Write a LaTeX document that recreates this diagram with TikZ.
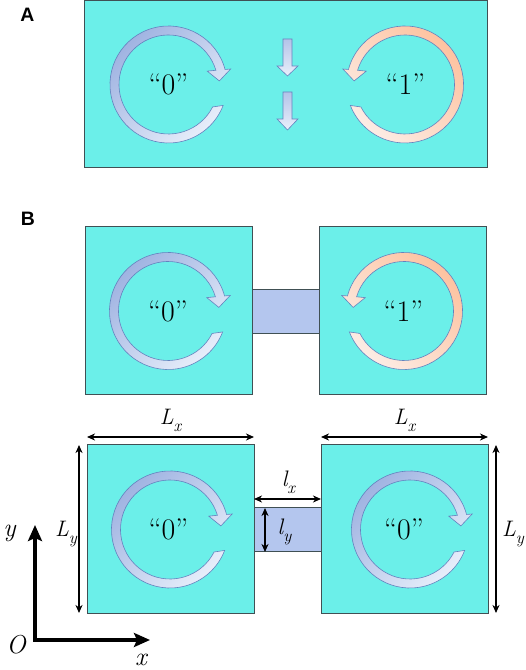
\documentclass[tikz,border=0pt]{standalone}
\usepackage{fontspec}
\newfontfamily\panelfont{Liberation Sans}
\newcommand{\tms}{\rmfamily}
\usetikzlibrary{arrows.meta}
\definecolor{cyanfill}{RGB}{107,239,233}
\definecolor{boxline}{RGB}{64,80,84}
\definecolor{bridgefill}{RGB}{180,198,238}
\definecolor{blued}{RGB}{156,176,224}
\definecolor{bluel}{RGB}{234,240,251}
\definecolor{ringline}{RGB}{100,130,190}
\definecolor{oranged}{RGB}{253,192,156}
\definecolor{orangel}{RGB}{252,238,232}
\newcommand{\sublab}[2]{{\tms\itshape #1}\raisebox{-7bp}{\fontsize{17}{17}\selectfont\tms\itshape #2}}
\tikzset{
  swirl/.pic={\path[pic actions] (14.9:58.5) arc[start angle=14.9,end angle=339,radius=58.5]
      -- (333:49.5) arc[start angle=333,end angle=16.7,radius=49.5]
      -- (19:41) -- (4:51) -- (14:64) -- cycle;},
  zeroring/.style={draw=ringline, line width=0.6bp, top color=blued, bottom color=bluel, shading angle=45},
  onering/.style={draw=ringline, line width=0.6bp, top color=oranged, bottom color=orangel, shading angle=-45},
  cell/.style={draw=boxline, fill=cyanfill, line width=1bp, inner sep=0pt, outer sep=0pt},
  bridge/.style={draw=boxline, fill=bridgefill, line width=1bp, inner sep=0pt, outer sep=0pt,
     minimum width=67bp, minimum height=44bp},
  bit/.style={font=\tms\fontsize{30}{32}\selectfont, inner sep=0pt},
  dimlab/.style={font=\tms\fontsize{22.5}{24}\selectfont, inner sep=0pt, anchor=base},
  axlab/.style={font=\tms\fontsize{26}{28}\selectfont\itshape, inner sep=0pt, anchor=base},
  dim/.style={line width=1.3bp, {Stealth[length=8bp,width=7bp,inset=2.5bp]}-{Stealth[length=8bp,width=7bp,inset=2.5bp]}},
  axis/.style={line width=4bp, line join=miter, {Stealth[length=16bp,width=14bp,inset=3bp]}-{Stealth[length=16bp,width=14bp,inset=3bp]}},
  smallarrow/.style={draw=ringline, line width=0.6bp, top color=blued!70!bluel, bottom color=bluel},
  panel/.style={font=\panelfont\bfseries\fontsize{19.5}{20}\selectfont, inner sep=0pt, anchor=base}
}
\begin{document}
\begin{tikzpicture}[x=1bp,y=1bp]
\useasboundingbox (0,0) rectangle (526,670);
% ---------- Panel A ----------
\node[panel] (labA) at (27.5,648) {A};
\node[cell, minimum width=402bp, minimum height=167bp] (boxA) at (286,585.5) {};
\pic[zeroring] at (168.5,585.5) {swirl};
\pic[onering, xscale=-1] at (405,585.5) {swirl};
\node[bit] (a0) at (168.5,585.5) {“0”};
\node[bit] (a1) at (405.5,585.5) {“1”};
\path[smallarrow] (283,631) -- (292,631) -- (292,604) -- (298,604) -- (287.5,594) -- (277,604) -- (283,604) -- cycle;
\path[smallarrow] (283,578) -- (292,578) -- (292,551) -- (298,551) -- (287.5,540) -- (277,551) -- (283,551) -- cycle;
% ---------- Panel B top ----------
\node[panel] (labB) at (28,444) {B};
\node[bridge] (bt) at (285.5,358) {};
\node[cell, minimum width=167bp, minimum height=168bp] (tl) at (168.5,359) {};
\node[cell, minimum width=167bp, minimum height=168bp] (tr) at (402.5,359) {};
\pic[zeroring] at (168,359) {swirl};
\pic[onering, xscale=-1] at (404,359) {swirl};
\node[bit] (b0) at (168,359) {“0”};
\node[bit] (b1) at (403.5,359) {“1”};
% ---------- Panel B bottom ----------
\node[bridge] (bb) at (287.5,140) {};
\node[cell, minimum width=167bp, minimum height=168bp] (ll) at (170.5,141) {};
\node[cell, minimum width=167bp, minimum height=168bp] (lr) at (404.5,141) {};
\pic[zeroring] at (170,140.5) {swirl};
\pic[zeroring] at (410,140.5) {swirl};
\node[bit] (c0) at (168.5,140.5) {“0”};
\node[bit] (c1) at (404,140.5) {“0”};
% dimensions
\draw[dim] ([yshift=8bp]ll.north west) -- ([yshift=8bp]ll.north east);
\draw[dim] ([yshift=8bp]lr.north west) -- ([yshift=8bp]lr.north east);
\draw[dim] ([xshift=-8bp]ll.north west) -- ([xshift=-8bp]ll.south west);
\draw[dim] ([xshift=8bp]lr.north east) -- ([xshift=8bp]lr.south east);
\draw[dim] ([yshift=9bp]bb.north west) -- ([yshift=9bp]bb.north east);
\draw[dim] ([xshift=11bp]bb.north west) -- ([xshift=11bp]bb.south west);
\node[dimlab] (lx1) at (170.5,245) {\sublab{L}{x}};
\node[dimlab] (lx2) at (404.5,245) {\sublab{L}{x}};
\node[dimlab] (ly1) at (66,133) {\sublab{L}{y}};
\node[dimlab] (ly2) at (513,133) {\sublab{L}{y}};
\node[dimlab] (sx) at (288.5,183) {\sublab{l}{x}};
\node[dimlab] (sy) at (284.5,135) {\sublab{l}{y}};
% axes
\coordinate (O) at (35,30);
\coordinate (ytip) at (35,145);
\coordinate (xtip) at (150,30);
\draw[axis] (ytip) -- (O) -- (xtip);
\node[axlab] (ylab) at (9.5,133) {y};
\node[axlab] (olab) at (16,16) {O};
\node[axlab] (xlab) at (141,4) {x};
\end{tikzpicture}
\end{document}
